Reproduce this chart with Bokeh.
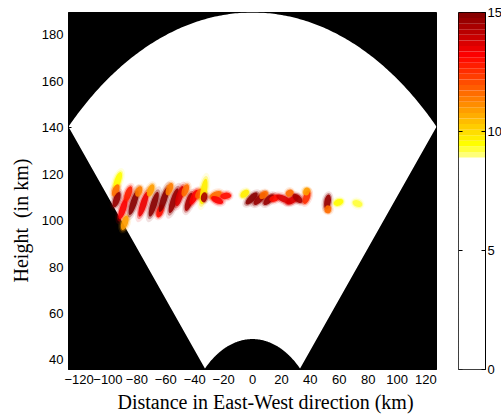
import numpy as np
from bokeh.plotting import figure
from bokeh.models import Title, FixedTicker, ColumnDataSource, Range1d
from bokeh.layouts import row
from bokeh.transform import linear_cmap
from bokeh.embed import file_html
from bokeh.resources import INLINE

# ---------------- data ----------------
x_ticks = [-120, -100, -80, -60, -40, -20, 0, 20, 40, 60, 80, 100, 120]
y_ticks = [40, 60, 80, 100, 120, 140, 160, 180]
cbar_ticks = [0, 5, 10, 15]
cbar_min, cbar_max = 0, 15

radar_inner_km = 49.0
radar_outer_km = 189.5
radar_half_angle_deg = 42.2

# echoes: centre (km), power, streak tilt (deg, screen) and streak length (px)
echo_x = [-93.2, -94.6, -94.0, -89.7, -88.4, -86.0, -82.2, -78.7, -75.5, -70.5,
          -68.3, -64.0, -61.4, -57.5, -54.5, -50.4, -46.5, -44.0, -40.5, -37.0,
          -33.8, -33.5, -25.5, -24.5, -18.6,
          -5.4, -0.6, 4.9, 7.7, 11.2, 15.0,
          21.5, 25.7, 27.6, 31.2, 37.4, 37.4, 51.9, 52.2, 59.5, 72.6]
echo_y = [117.2, 113.0, 109.0, 105.0, 99.0, 111.5, 107.7, 112.5, 107.0, 113.0,
          107.0, 104.0, 109.0, 113.5, 108.5, 110.5, 113.0, 108.0, 110.0, 111.5,
          112.5, 110.0, 111.0, 108.8, 110.6,
          111.5, 109.5, 109.3, 111.0, 109.0, 109.5,
          109.3, 111.8, 108.8, 109.5, 110.0, 112.5, 108.0, 104.8, 107.8, 107.3]
echo_power = [9.6, 11.5, 14.6, 13.2, 11.0, 12.8, 14.8, 11.3, 13.4, 11.0,
              14.8, 13.0, 14.9, 11.3, 14.7, 13.8, 11.5, 14.5, 13.2, 11.8,
              9.8, 14.5, 11.5, 13.3, 13.0,
              9.7, 14.8, 14.6, 11.5, 14.7, 13.0,
              13.6, 11.5, 13.6, 14.3, 12.6, 11.0, 14.7, 11.5, 9.4, 9.2]
echo_tilt = [70, 68, 70, 72, 72, 70, 72, 68, 72, 68,
             72, 70, 72, 68, 72, 72, 68, 72, 65, 60,
             80, 80, 25, -25, 5,
             40, 45, 45, 40, 45, 20,
             -25, 30, 30, -40, 70, 70, 80, 80, 20, -20]
echo_len = [18, 13, 16, 22, 15, 16, 26, 11, 26, 13,
            26, 13, 26, 13, 26, 21, 13, 19, 16, 11,
            26, 10, 13, 13, 11,
            10, 16, 16, 10, 14, 10,
            16, 8, 14, 12, 14, 8, 15, 8, 10, 10]

# ---------------- colour map (reversed "hot", white below ~9) ----------------
n_levels = 64


def level_color(v):
    if v < 9.0:
        return "#ffffff"
    t = (v - 9.0) / 6.0
    if t < 0.08:
        r, g, b = 255, 255, int(128 * (1 - t / 0.08))
    elif t < 0.7:
        r, g, b = 255, int(255 * (1 - (t - 0.08) / 0.62)), 0
    else:
        r, g, b = int(255 - 127 * (t - 0.7) / 0.3), 0, 0
    return "#%02x%02x%02x" % (r, g, b)


step = (cbar_max - cbar_min) / n_levels
palette = [level_color(cbar_min + (i + 0.5) * step) for i in range(n_levels)]

# ---------------- main figure ----------------
ha = np.deg2rad(radar_half_angle_deg)
x_lim = radar_outer_km * np.sin(ha)
y_low = radar_inner_km * np.cos(ha) - 0.4

p = figure(frame_width=368, frame_height=357,
           min_border_left=67, min_border_right=13, min_border_top=12, min_border_bottom=47,
           x_range=Range1d(-x_lim, x_lim), y_range=Range1d(y_low, radar_outer_km),
           output_backend="svg", toolbar_location=None)
p.background_fill_color = "black"
p.border_fill_color = "white"
p.outline_line_color = "black"
p.grid.visible = False

ang_out = np.linspace(np.pi / 2 + ha, np.pi / 2 - ha, 200)
ang_in = ang_out[::-1]
sx = np.concatenate([radar_outer_km * np.cos(ang_out), radar_inner_km * np.cos(ang_in)])
sy = np.concatenate([radar_outer_km * np.sin(ang_out), radar_inner_km * np.sin(ang_in)])
p.patch(sx, sy, fill_color="white", line_color=None)

src = ColumnDataSource(dict(x=echo_x, y=echo_y, v=echo_power, a=echo_tilt,
                            L0=[l * 1.45 for l in echo_len],
                            L1=[l * 1.2 for l in echo_len],
                            L2=echo_len))
cmap = linear_cmap("v", palette, cbar_min, cbar_max)
for wcol, h, alpha in (("L0", 12, 0.12), ("L1", 9, 0.35), ("L2", 6.5, 0.9)):
    p.ellipse(x="x", y="y", width=wcol, height=h, angle="a", source=src,
              width_units="screen", height_units="screen", angle_units="deg",
              fill_color=cmap, fill_alpha=alpha, line_color=None)

for ax in (p.xaxis, p.yaxis):
    ax.major_tick_in = 3
    ax.major_tick_out = 0
    ax.minor_tick_line_color = None
    ax.axis_line_color = "black"
    ax.major_tick_line_color = "black"
    ax.major_label_text_font = "Liberation Sans"
    ax.major_label_text_font_size = "13px"
    ax.major_label_text_color = "black"
p.xaxis.ticker = FixedTicker(ticks=x_ticks)
p.yaxis.ticker = FixedTicker(ticks=y_ticks)
p.xaxis.major_label_standoff = 5
p.yaxis.major_label_standoff = 5

p.add_layout(Title(text="Distance in East-West direction (km)", align="left", offset=49,
                   text_font="Liberation Serif", text_font_size="20px",
                   text_font_style="normal", text_color="black", standoff=4), "below")
p.add_layout(Title(text="Height\u00a0 (in km)", align="left", offset=87,
                   text_font="Liberation Serif", text_font_size="20px",
                   text_font_style="normal", text_color="black", standoff=14), "left")

# ---------------- colour bar figure ----------------
cb = figure(frame_width=27, frame_height=357,
            min_border_left=9, min_border_right=17, min_border_top=12, min_border_bottom=47,
            x_range=Range1d(0, 1), y_range=Range1d(cbar_min, cbar_max),
            y_axis_location="right", output_backend="svg", toolbar_location=None)
cb.xaxis.visible = False
cb.grid.visible = False
cb.outline_line_color = "black"
lo = [cbar_min + i * step for i in range(n_levels)]
hi = [cbar_min + (i + 1) * step for i in range(n_levels)]
cb.quad(left=0, right=1, bottom=lo, top=hi, fill_color=palette, line_color=None)
cb.segment(x0=0, x1=0.15, y0=cbar_ticks, y1=cbar_ticks, line_color="black", line_width=1)
cb.yaxis.ticker = FixedTicker(ticks=cbar_ticks)
cb.yaxis.major_tick_in = 4
cb.yaxis.major_tick_out = 0
cb.yaxis.minor_tick_line_color = None
cb.yaxis.major_label_standoff = 2
cb.yaxis.major_label_text_font = "Liberation Sans"
cb.yaxis.major_label_text_font_size = "13px"
cb.yaxis.major_label_text_color = "black"

layout = row(p, cb)
open("out.html", "w").write(file_html(layout, INLINE))
